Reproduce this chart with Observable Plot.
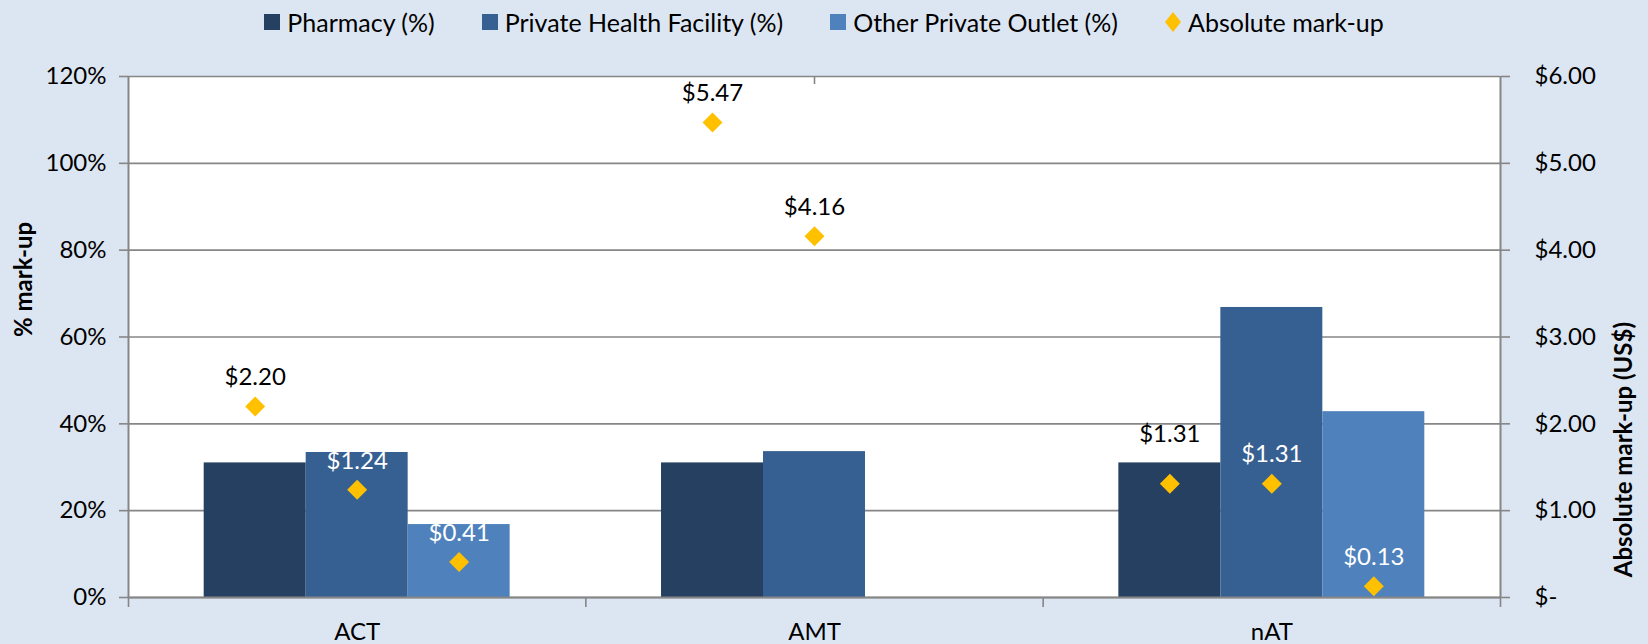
<!DOCTYPE html>
<html>
<head>
<meta charset="utf-8">
<script src="https://cdn.jsdelivr.net/npm/d3@7"></script>
<script src="https://cdn.jsdelivr.net/npm/@observablehq/plot@0.6"></script>
<style>
  html, body { margin: 0; padding: 0; background: #DCE6F2; }
  body { width: 1648px; height: 644px; overflow: hidden; font-family: Lato, sans-serif; }
  #legend { height: 44px; display: flex; justify-content: center; align-items: center; gap: 47px; font-size: 25px; color: #000; }
  .item { display: flex; align-items: center; gap: 7px; }
  .sw { width: 16px; height: 16px; display: inline-block; }
  #chart svg { display: block; }
</style>
</head>
<body>
<div id="legend"></div>
<div id="chart"></div>
<script>
// ---- data ----
const categories = ["ACT", "AMT", "nAT"];
const seriesNames = ["Pharmacy (%)", "Private Health Facility (%)", "Other Private Outlet (%)"];
const seriesColors = ["#264061", "#376092", "#4F81BD"];
const pharmacyPct = [31, 31, 31];
const privateHealthPct = [33.4, 33.6, 66.8];
const otherPrivatePct = [16.8, null, 42.8];
const pharmacyAbs = [2.20, 5.47, 1.31];
const privateHealthAbs = [1.24, 4.16, 1.31];
const otherPrivateAbs = [0.41, null, 0.13];
const absName = "Absolute mark-up";
const absColor = "#FFC000";
const leftTicks = [0, 20, 40, 60, 80, 100, 120];
const rightTicks = [0, 1, 2, 3, 4, 5, 6];
const leftTitle = "% mark-up";
const rightTitle = "Absolute mark-up (US$)";

// ---- layout helpers ----
const W = 1648, H = 600;
const mTop = 32, mBottom = 47, mLeft = 128, mRight = 148;
const plotH = H - mTop - mBottom;
const yMax = 120, absMax = 6, k = yMax / absMax; // right axis maps onto left axis
const barW = 0.223, pad = (1 - 3 * barW) / 2;
const grey = "#868686";

const pctSeries = [pharmacyPct, privateHealthPct, otherPrivatePct];
const absSeries = [pharmacyAbs, privateHealthAbs, otherPrivateAbs];

const bars = [];
const points = [];
categories.forEach((c, i) => {
  seriesNames.forEach((s, j) => {
    const p = pctSeries[j][i];
    const a = absSeries[j][i];
    const x1 = i + pad + j * barW;
    if (p != null) bars.push({category: c, series: s, x1, x2: x1 + barW, pct: p});
    if (a != null) {
      const barTop = p == null ? 0 : p;
      const inside = a * k + 7 < barTop;
      points.push({category: c, series: s, x: x1 + barW / 2, v: a, y: a * k,
                   labelY: inside ? a * k : Math.max(a * k, barTop), inside});
    }
  });
});

// ---- legend ----
const legend = document.getElementById("legend");
seriesNames.forEach((s, j) => {
  const it = document.createElement("div");
  it.className = "item";
  it.innerHTML = `<span class="sw" style="background:${seriesColors[j]}"></span><span>${s}</span>`;
  legend.appendChild(it);
});
{
  const it = document.createElement("div");
  it.className = "item";
  it.innerHTML = `<svg width="16" height="20" viewBox="0 0 16 20"><polygon points="8,0 16,10 8,20 0,10" fill="${absColor}"/></svg><span>${absName}</span>`;
  legend.appendChild(it);
}

// ---- chart ----
const chart = Plot.plot({
  width: W,
  height: H,
  marginTop: mTop,
  marginBottom: mBottom,
  marginLeft: mLeft,
  marginRight: mRight,
  style: {fontFamily: "Lato, sans-serif", fontSize: "24px", background: "transparent", color: "#000"},
  x: {type: "linear", domain: [0, categories.length], axis: null},
  y: {type: "linear", domain: [0, yMax], axis: null},
  color: {domain: seriesNames, range: seriesColors},
  marks: [
    Plot.frame({fill: "white", stroke: null}),
    Plot.gridY(leftTicks, {stroke: grey, strokeOpacity: 1, strokeWidth: 1.6}),
    Plot.rectY(bars, {x1: "x1", x2: "x2", y1: 0, y2: "pct", fill: "series"}),
    Plot.ruleX([0, categories.length], {stroke: grey, strokeWidth: 2}),
    Plot.ruleY([0], {stroke: grey, strokeWidth: 2}),
    // left axis
    Plot.axisY(leftTicks, {anchor: "left", tickSize: 9, tickPadding: 13, stroke: grey, strokeWidth: 1.6,
      fill: "#000", fontSize: 24, tickFormat: d => d + "%", label: null}),
    // right axis (absolute mark-up, mapped with factor k)
    Plot.axisY(rightTicks.map(v => v * k), {anchor: "right", tickSize: 9, tickPadding: 25, stroke: grey, strokeWidth: 1.6,
      fill: "#000", fontSize: 24, tickFormat: d => d === 0 ? "$-" : "$" + (d / k).toFixed(2), label: null}),
    // category boundary ticks
    Plot.axisX(d3.range(categories.length + 1), {anchor: "bottom", tickSize: 10, stroke: grey, strokeWidth: 1.6,
      tickFormat: () => "", label: null}),
    // category labels
    Plot.axisX(categories.map((c, i) => i + 0.5), {anchor: "bottom", tickSize: 0, tickPadding: 25,
      fill: "#000", fontSize: 24, tickFormat: d => categories[Math.floor(d)], label: null}),
    // secondary (top) axis tick
    Plot.ruleX([1.5], {y1: yMax, y2: yMax - 8 * yMax / plotH, stroke: grey, strokeWidth: 1.6}),
    // absolute mark-up diamonds
    Plot.dot(points, {x: "x", y: "y", symbol: "diamond2", r: 9, fill: absColor, stroke: null}),
    Plot.text(points, {x: "x", y: "labelY", dy: -29, text: d => "$" + d.v.toFixed(2),
      fill: d => d.inside ? "white" : "black", fontSize: 24}),
    // axis titles
    Plot.text([leftTitle], {frameAnchor: "left", rotate: -90, dx: -104, fontWeight: "bold", fontSize: 24, fill: "#000"}),
    Plot.text([rightTitle], {frameAnchor: "right", rotate: -90, dx: 124, dy: -15, fontWeight: "bold", fontSize: 24, fill: "#000"})
  ]
});
document.getElementById("chart").appendChild(chart);
</script>
</body>
</html>
